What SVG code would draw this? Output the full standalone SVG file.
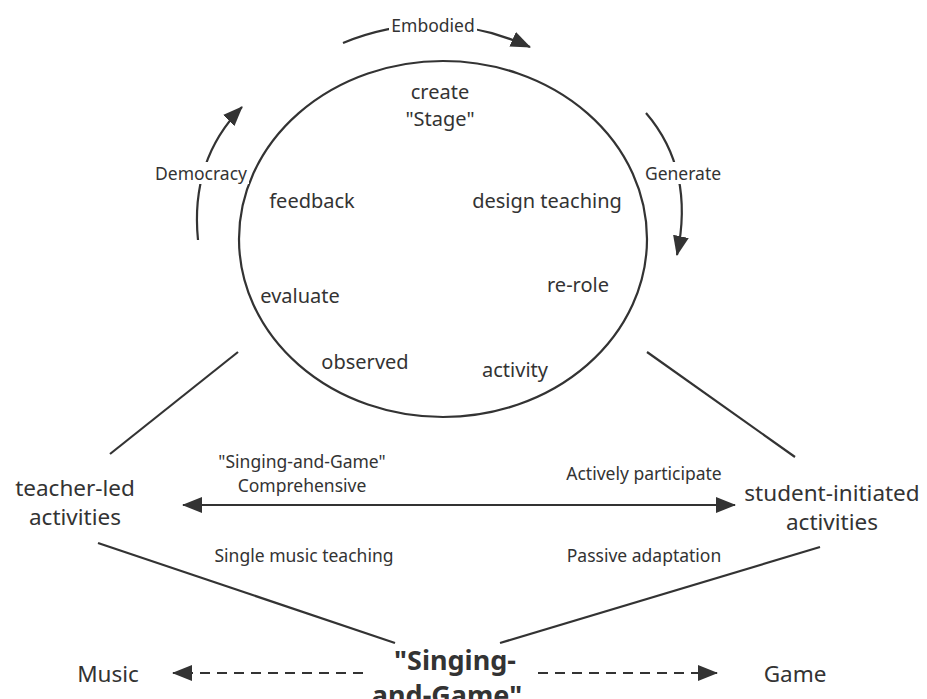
<svg xmlns="http://www.w3.org/2000/svg" width="927" height="699" viewBox="0 0 927 699">
<style>
.t{font-family:"Noto Sans","Open Sans",sans-serif;fill:#333;text-anchor:middle;dominant-baseline:central}
.in{font-size:20px}
.big{font-size:22.5px}
.sm{font-size:17.5px}
.ln{stroke:#333;stroke-width:2.2;fill:none}
.bg{fill:#fff}
</style>
<defs>
<marker id="ah" viewBox="0 0 20 16" refX="19" refY="8" markerWidth="20" markerHeight="16" markerUnits="userSpaceOnUse" orient="auto">
<path d="M0,0 L20,8 L0,16 Z" fill="#333"/>
</marker>
<marker id="ahs" viewBox="0 0 20 16" refX="1" refY="8" markerWidth="20" markerHeight="16" markerUnits="userSpaceOnUse" orient="auto">
<path d="M20,0 L0,8 L20,16 Z" fill="#333"/>
</marker>
</defs>
<rect width="927" height="699" fill="#fff"/>
<g id="cycle">
<ellipse cx="443" cy="239" rx="204" ry="178" class="ln"/>
</g>
<g id="connectors">
<path d="M343,43 Q436,5 530,47" class="ln" marker-end="url(#ah)"/>
<path d="M198,240 Q190,160 242,107" class="ln" marker-end="url(#ah)"/>
<path d="M646,113 Q695,170 677,255" class="ln" marker-end="url(#ah)"/>
<line x1="238" y1="352" x2="110" y2="454" class="ln"/>
<line x1="647" y1="352" x2="795" y2="457" class="ln"/>
<line x1="98" y1="543" x2="395" y2="643" class="ln"/>
<line x1="820" y1="547" x2="500" y2="643" class="ln"/>
<line x1="183" y1="505" x2="735" y2="505" class="ln" marker-start="url(#ahs)" marker-end="url(#ah)"/>
<line x1="363" y1="673" x2="173" y2="673" class="ln" stroke-dasharray="10,7" marker-end="url(#ah)"/>
<line x1="538" y1="673" x2="717" y2="673" class="ln" stroke-dasharray="10,7" marker-end="url(#ah)"/>
</g>
<g id="edge-labels">
<rect x="389" y="14" width="88" height="22" class="bg"/>
<text x="433" y="25" class="t sm">Embodied</text>
<rect x="153" y="162" width="96" height="22" class="bg"/>
<text x="201" y="173" class="t sm">Democracy</text>
<rect x="643" y="162" width="80" height="22" class="bg"/>
<text x="683" y="173" class="t sm">Generate</text>
<text x="302" y="461" class="t sm">"Singing-and-Game"</text>
<text x="302" y="485" class="t sm">Comprehensive</text>
<text x="644" y="473" class="t sm">Actively participate</text>
<text x="304" y="555" class="t sm">Single music teaching</text>
<text x="644" y="555" class="t sm">Passive adaptation</text>
</g>
<g id="node-create"><text x="440" y="91" class="t in">create</text><text x="440" y="118" class="t in">"Stage"</text></g>
<g id="node-feedback"><text x="312" y="200" class="t in">feedback</text></g>
<g id="node-design"><text x="547" y="200" class="t in">design teaching</text></g>
<g id="node-rerole"><text x="578" y="284" class="t in">re-role</text></g>
<g id="node-evaluate"><text x="300" y="295" class="t in">evaluate</text></g>
<g id="node-observed"><text x="365" y="361" class="t in">observed</text></g>
<g id="node-activity"><text x="515" y="369" class="t in">activity</text></g>
<g id="node-teacher"><text x="75" y="487" class="t big">teacher-led</text><text x="75" y="516" class="t big">activities</text></g>
<g id="node-student"><text x="832" y="492" class="t big">student-initiated</text><text x="832" y="521" class="t big">activities</text></g>
<g id="node-singing"><text x="455" y="659" class="t" style="font-size:27px;font-weight:bold">"Singing-</text><text x="447" y="694" class="t" style="font-size:27px;font-weight:bold">and-Game"</text></g>
<g id="node-music"><text x="108" y="673" class="t big">Music</text></g>
<g id="node-game"><text x="795" y="673" class="t big">Game</text></g>
</svg>
